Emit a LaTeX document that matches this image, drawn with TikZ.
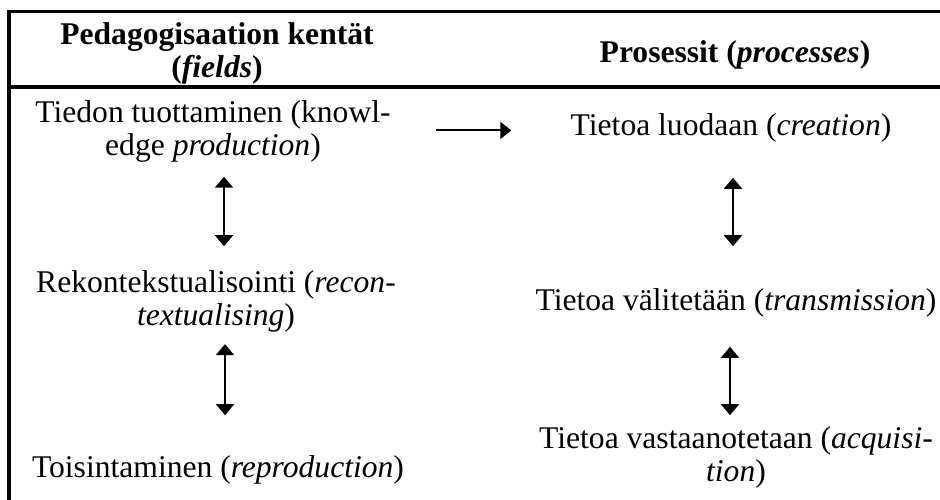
\documentclass[tikz,border=0pt]{standalone}
\usepackage{fontspec}
\setmainfont{Liberation Serif}
\usetikzlibrary{arrows.meta}

\begin{document}
\begin{tikzpicture}[x=0.5pt, y=-0.5pt,
	every node/.style={inner sep=0pt, align=center, anchor=base, font=\fontsize{15.8}{16.5}\selectfont},
	head/.style={font=\fontsize{15.8}{16.5}\selectfont\bfseries},
	arr/.style={-{Triangle[width=8.5pt, length=5.5pt]}, line width=1pt},
	twoway/.style={{Triangle[width=9pt, length=5.5pt]}-{Triangle[width=9pt, length=5.5pt]}, line width=1pt}]
	\useasboundingbox (0,0) rectangle (940,499);
	\draw[line width=1.6pt] (940,11.5) -| (9,510);
	\draw[line width=1.6pt] (9,87) -- (940,87);
	% multi-line nodes sit on their last line
	\node[head] (hkent) at (217,77) {Pedagogisaation kentät\\(\textit{fields})};
	\node[head] (hproc) at (735,62) {Prosessit (\textit{processes})};
	\node (tuot) at (213,155) {Tiedon tuottaminen (knowl-\\edge \textit{production})};
	\node (rekon) at (216,325) {Rekontekstualisointi (\textit{recon-}\\\textit{textualising})};
	\node (tois) at (218,477) {Toisintaminen (\textit{reproduction})};
	\node (luod) at (731,135) {Tietoa luodaan (\textit{creation})};
	\node (valit) at (736,310) {Tietoa välitetään (\textit{transmission})};
	\node (vast) at (736,481) {Tietoa vastaanotetaan (\textit{acquisi-}\\\textit{tion})};
	\draw[arr, shorten <=22.5pt, shorten >=29.5pt] (tuot.east |- luod.mid west) -- (luod.mid west);
	\foreach \a/\b/\dx/\s/\e in {tuot/rekon/5.5pt/7.25pt/11.75pt, rekon/tois/4.5pt/6pt/19.75pt, luod/valit/1pt/17.85pt/20.75pt, valit/vast/-3pt/14.85pt/5.25pt}
		\draw[twoway, shorten <=\s, shorten >=\e] ([xshift=\dx]\a.south) -- ([xshift=\dx]\a.south |- \b.north);
\end{tikzpicture}
\end{document}
